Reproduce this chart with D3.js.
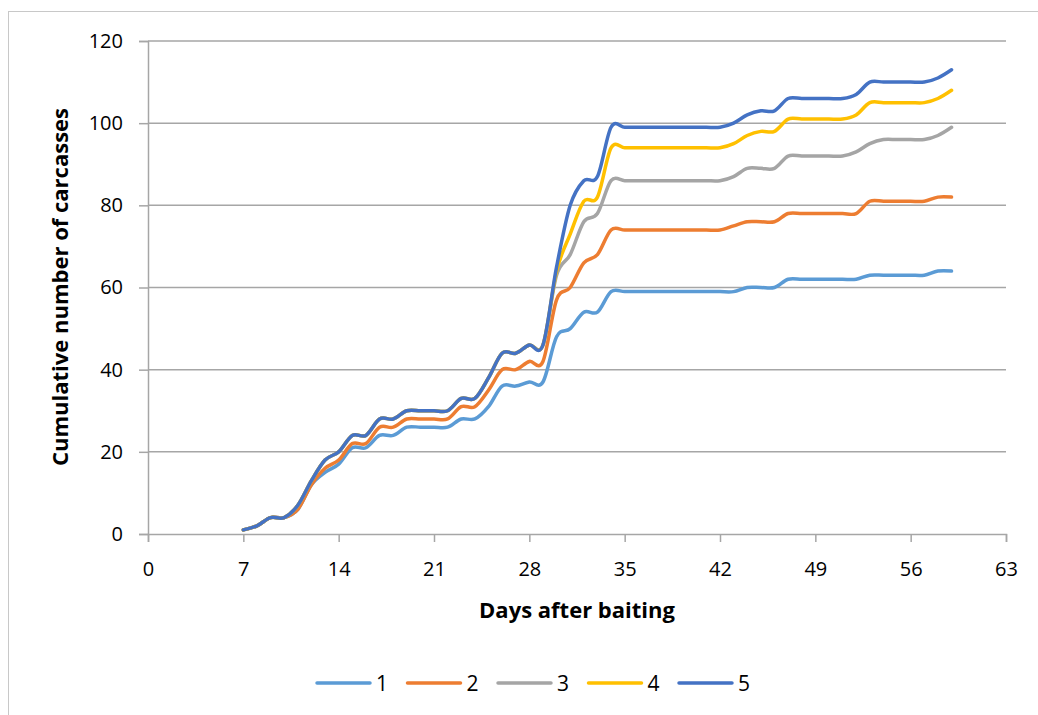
<!DOCTYPE html>
<html>
<head>
<meta charset="utf-8">
<script src="https://cdn.jsdelivr.net/npm/d3@7"></script>
<style>
  body{margin:0;background:#fff;}
  text{font-family:"Open Sans", "Liberation Sans", sans-serif;fill:#000;}
</style>
</head>
<body>
<div id="canvas"></div>
<script>
//days after baiting (x categories)
var days = [7,8,9,10,11,12,13,14,15,16,17,18,19,20,21,22,23,24,25,26,27,28,29,30,31,32,33,
            34,35,36,37,38,39,40,41,42,43,44,45,46,47,48,49,50,51,52,53,54,55,56,57,58,59];
//cumulative carcasses per series
var s1 = [1,2,4,4,6,12,15,17,21,21,24,24,26,26,26,26,28,28,31,36,36,37,37,48,50,54,54,
          59,59,59,59,59,59,59,59,59,59,60,60,60,62,62,62,62,62,62,63,63,63,63,63,64,64];
var s2 = [1,2,4,4,6,12,16,18,22,22,26,26,28,28,28,28,31,31,35,40,40,42,42,57,60,66,68,
          74,74,74,74,74,74,74,74,74,75,76,76,76,78,78,78,78,78,78,81,81,81,81,81,82,82];
var s3 = [1,2,4,4,7,13,18,20,24,24,28,28,30,30,30,30,33,33,38,44,44,46,46,63,68,76,78,
          86,86,86,86,86,86,86,86,86,87,89,89,89,92,92,92,92,92,93,95,96,96,96,96,97,99];
var s4 = [1,2,4,4,7,13,18,20,24,24,28,28,30,30,30,30,33,33,38,44,44,46,46,64,73,81,82,
          94,94,94,94,94,94,94,94,94,95,97,98,98,101,101,101,101,101,102,105,105,105,105,105,106,108];
var s5 = [1,2,4,4,7,13,18,20,24,24,28,28,30,30,30,30,33,33,38,44,44,46,46,65,80,86,87,
          99,99,99,99,99,99,99,99,99,100,102,103,103,106,106,106,106,106,107,110,110,110,110,110,111,113];
var seriesNames = ['1','2','3','4','5'];
var xTicks = [0,7,14,21,28,35,42,49,56,63];
var yTicks = [0,20,40,60,80,100,120];

var colors = ['#5b9bd5','#ed7d31','#a5a5a5','#ffc000','#4472c4'];
var allSeries = [s1,s2,s3,s4,s5];

var width = 1038, height = 715;
var svg = d3.select('#canvas').append('svg')
            .attr('width', width)
            .attr('height', height);

//chart border
svg.append('rect')
   .attr('x', 8.5).attr('y', 11.5)
   .attr('width', 1100).attr('height', 800)
   .attr('fill', 'none')
   .attr('stroke', '#c8c8c8')
   .attr('stroke-width', 1);

var xScale = d3.scaleLinear().domain([0,63]).range([148,1006]);
var yScale = d3.scaleLinear().domain([0,120]).range([534,41]);

//horizontal gridlines
svg.append('g').selectAll('line')
   .data(yTicks.slice(1))
   .enter().append('line')
   .attr('x1', xScale(0)).attr('x2', xScale(63))
   .attr('y1', function(d){return yScale(d)})
   .attr('y2', function(d){return yScale(d)})
   .attr('stroke', '#a6a6a6')
   .attr('stroke-width', 1.5);

//y axis
var yAxis = svg.append('g')
   .attr('transform', 'translate(' + xScale(0) + ',0)')
   .call(d3.axisLeft(yScale).tickValues(yTicks).tickSize(9).tickPadding(16).tickFormat(d3.format('d')));
yAxis.select('.domain').attr('stroke', '#a6a6a6').attr('stroke-width', 1.5);
yAxis.selectAll('.tick line').attr('stroke', '#a6a6a6').attr('stroke-width', 1.5);
yAxis.selectAll('.tick text').style('font-size', '20px').attr('font-family', null);

//x axis
var xAxis = svg.append('g')
   .attr('transform', 'translate(0,' + yScale(0) + ')')
   .call(d3.axisBottom(xScale).tickValues(xTicks).tickSize(8).tickPadding(20).tickFormat(d3.format('d')));
xAxis.select('.domain').attr('stroke', '#a6a6a6').attr('stroke-width', 1.5);
xAxis.selectAll('.tick line').attr('stroke', '#a6a6a6').attr('stroke-width', 1.5);
xAxis.selectAll('.tick text').style('font-size', '20px').attr('font-family', null);

//axis titles
svg.append('text')
   .attr('x', 577).attr('y', 618)
   .attr('text-anchor', 'middle')
   .style('font-size', '22px').style('font-weight', 'bold')
   .text('Days after baiting');

svg.append('text')
   .attr('transform', 'translate(68,287) rotate(-90)')
   .attr('text-anchor', 'middle')
   .style('font-size', '22px').style('font-weight', 'bold')
   .text('Cumulative number of carcasses');

//smoothed lines like the spreadsheet's
var genLine = d3.line()
   .curve(d3.curveCatmullRom.alpha(0))
   .x(function(d){return xScale(d[0])})
   .y(function(d){return yScale(d[1])});

allSeries.forEach(function(vals, i){
  var pts = days.map(function(d, j){return [d, vals[j]]});
  svg.append('path')
     .attr('d', genLine(pts))
     .attr('fill', 'none')
     .attr('stroke', colors[i])
     .attr('stroke-width', 3.5)
     .attr('stroke-linecap', 'round')
     .attr('stroke-linejoin', 'round');
});

//legend
var legend = svg.append('g').selectAll('g')
   .data(seriesNames)
   .enter().append('g')
   .attr('transform', function(d, i){return 'translate(' + (317 + i*90.5) + ',683)'});
legend.append('line')
   .attr('x1', 0).attr('x2', 53)
   .attr('y1', 0).attr('y2', 0)
   .attr('stroke', function(d, i){return colors[i]})
   .attr('stroke-width', 3.5)
   .attr('stroke-linecap', 'round');
legend.append('text')
   .attr('x', 59).attr('y', 8)
   .style('font-size', '21px')
   .text(function(d){return d});
</script>
</body>
</html>
